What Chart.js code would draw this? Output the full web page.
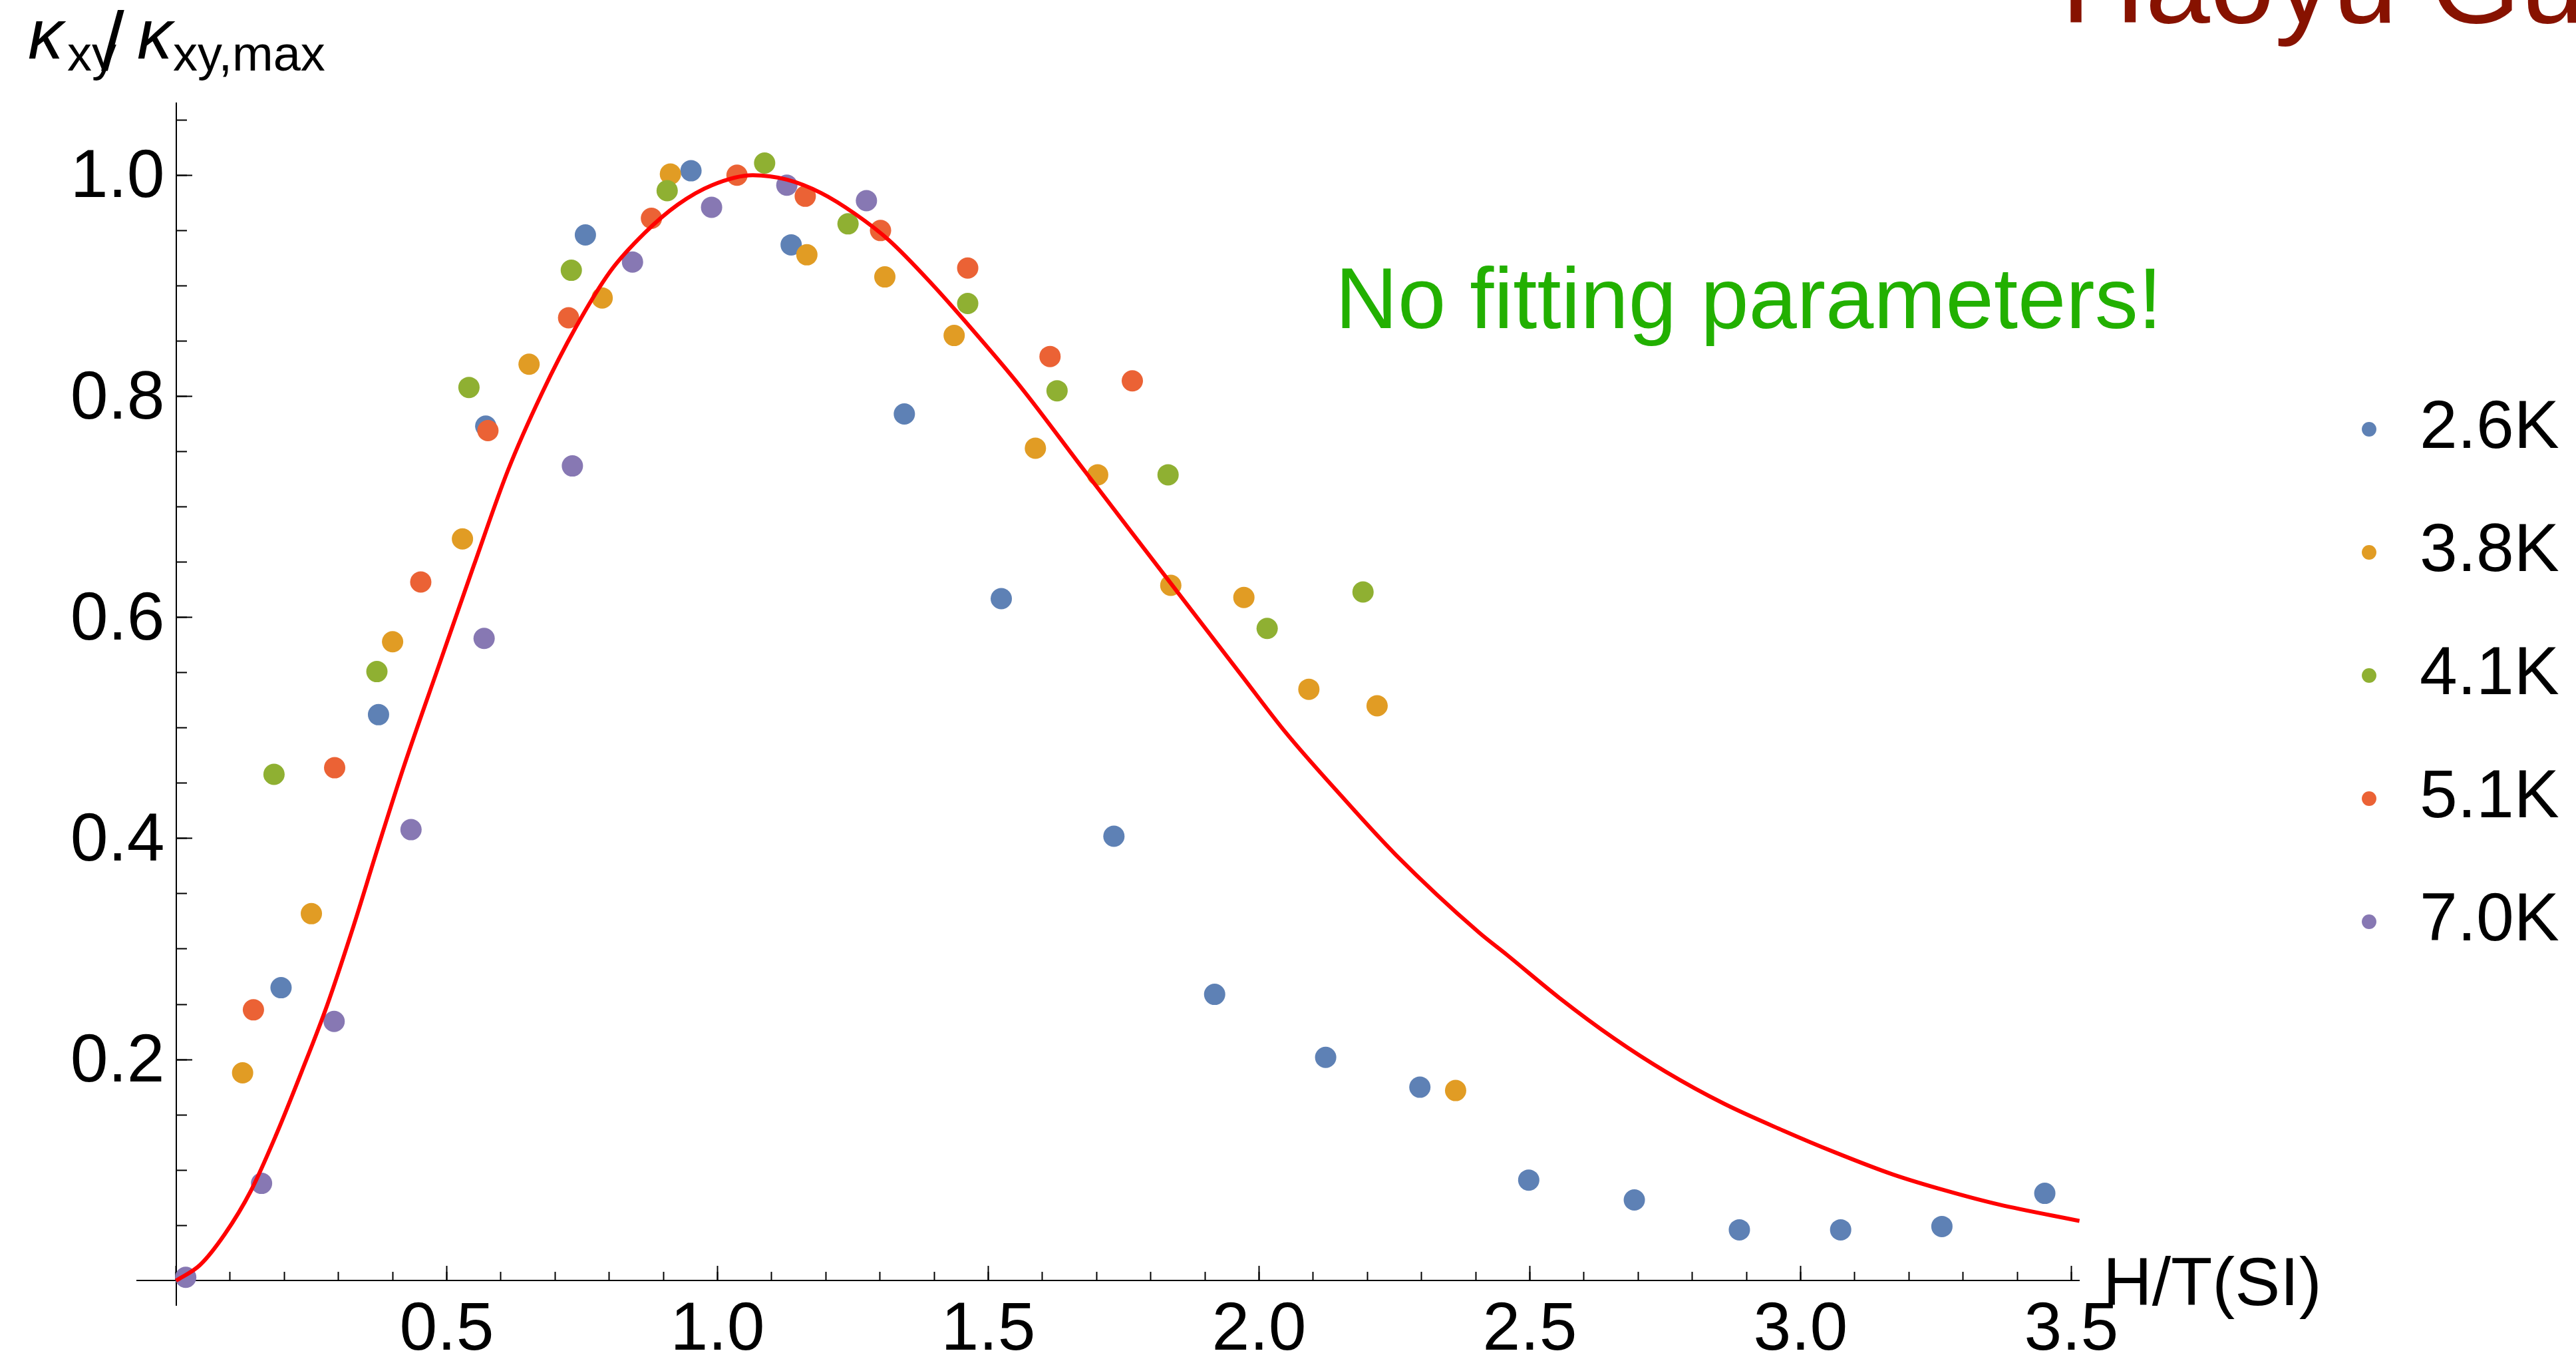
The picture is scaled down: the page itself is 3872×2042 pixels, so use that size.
<!DOCTYPE html>
<html><head><meta charset="utf-8">
<script src="https://cdn.jsdelivr.net/npm/chart.js@4/dist/chart.umd.min.js"></script>
<style>html,body{margin:0;padding:0;background:#fff;overflow:hidden}canvas{display:block}</style>
</head><body>
<canvas id="c" width="3872" height="2042" style="width:3872px;height:2042px"></canvas>
<script>
// ---------- data ----------
const seriesLabels = ['2.6K', '3.8K', '4.1K', '5.1K', '7.0K'];
const seriesColors = ['#5E81B5', '#E19C24', '#8FB032', '#EB6235', '#8778B3'];

const hT_2p6K = [0.194, 0.374, 0.572, 0.756, 0.951, 1.136, 1.345, 1.524, 1.732, 1.918, 2.123, 2.297, 2.498, 2.693, 2.887, 3.074, 3.261, 3.451];
const k_2p6K  = [0.265, 0.512, 0.773, 0.946, 1.004, 0.937, 0.784, 0.617, 0.402, 0.259, 0.202, 0.175, 0.091, 0.073, 0.046, 0.046, 0.049, 0.079];

const hT_3p8K = [0.123, 0.250, 0.400, 0.529, 0.652, 0.787, 0.913, 1.165, 1.309, 1.437, 1.587, 1.702, 1.837, 1.972, 2.092, 2.218, 2.363];
const k_3p8K  = [0.188, 0.332, 0.578, 0.671, 0.829, 0.889, 1.001, 0.928, 0.908, 0.855, 0.753, 0.729, 0.629, 0.618, 0.535, 0.520, 0.172];

const hT_4p1K = [0.181, 0.371, 0.541, 0.730, 0.907, 1.087, 1.241, 1.462, 1.627, 1.832, 2.015, 2.192];
const k_4p1K  = [0.458, 0.551, 0.808, 0.914, 0.986, 1.011, 0.956, 0.884, 0.805, 0.729, 0.590, 0.623];

const hT_5p1K = [0.143, 0.293, 0.452, 0.576, 0.725, 0.878, 1.036, 1.162, 1.301, 1.462, 1.614, 1.766];
const k_5p1K  = [0.245, 0.464, 0.632, 0.769, 0.871, 0.961, 1.000, 0.981, 0.950, 0.916, 0.836, 0.814];

const hT_7p0K = [0.018, 0.158, 0.292, 0.434, 0.569, 0.732, 0.843, 0.989, 1.128, 1.275];
const k_7p0K  = [0.003, 0.088, 0.2345, 0.408, 0.581, 0.737, 0.9215, 0.971, 0.991, 0.977];

// theory curve (red), read point by point
const curveH = [0, 0.044, 0.09, 0.138, 0.185, 0.232, 0.279, 0.326, 0.373, 0.42, 0.488, 0.55, 0.613, 0.676, 0.739, 0.802, 0.865, 0.927, 0.99, 1.065, 1.128, 1.191, 1.254, 1.317, 1.397, 1.457, 1.559, 1.671, 1.763, 1.865, 1.967, 2.049, 2.151, 2.253, 2.406, 2.457, 2.554, 2.656, 2.751, 2.859, 2.967, 3.064, 3.171, 3.268, 3.365, 3.515];
const curveK = [0, 0.014, 0.042, 0.081, 0.132, 0.189, 0.249, 0.318, 0.392, 0.464, 0.560, 0.647, 0.733, 0.803, 0.863, 0.913, 0.9475, 0.9735, 0.991, 1.0, 0.996, 0.984, 0.965, 0.941, 0.901, 0.868, 0.809, 0.737, 0.678, 0.613, 0.548, 0.496, 0.439, 0.385, 0.315, 0.295, 0.256, 0.219, 0.189, 0.160, 0.136, 0.116, 0.096, 0.0815, 0.069, 0.054];

const xTickValues = [0.5, 1.0, 1.5, 2.0, 2.5, 3.0, 3.5];
const xTickLabels = ['0.5', '1.0', '1.5', '2.0', '2.5', '3.0', '3.5'];
const yTickValues = [0.2, 0.4, 0.6, 0.8, 1.0];
const yTickLabels = ['0.2', '0.4', '0.6', '0.8', '1.0'];

const xAxisTitle = 'H/T(SI)';
const noteText = 'No fitting parameters!';
const authorText = 'Haoyu Gu';

// ---------- chart ----------
const FONT = '"Liberation Sans", Arial, Helvetica, sans-serif';
Chart.defaults.font.family = FONT;

const X_MIN = -0.0724, X_MAX = 3.5154, Y_MIN = -0.0221, Y_MAX = 1.065;

const pts = (xs, ys) => xs.map((v, i) => ({x: v, y: ys[i]}));
const seriesX = [hT_2p6K, hT_3p8K, hT_4p1K, hT_5p1K, hT_7p0K];
const seriesY = [k_2p6K, k_3p8K, k_4p1K, k_5p1K, k_7p0K];

const datasets = seriesLabels.map((lab, i) => ({
  label: lab,
  data: pts(seriesX[i], seriesY[i]),
  backgroundColor: seriesColors[i],
  borderColor: seriesColors[i],
  borderWidth: 0,
  pointRadius: 16,
  pointHoverRadius: 16,
  pointStyle: 'circle',
  order: 5 - i
}));
datasets.push({
  label: 'theory',
  data: pts(curveH, curveK),
  showLine: true,
  borderColor: '#FF0000',
  backgroundColor: '#FF0000',
  borderWidth: 6,
  pointRadius: 0,
  pointHoverRadius: 0,
  cubicInterpolationMode: 'monotone',
  fill: false,
  order: 0
});

const common = {type: 'linear'};
function tickScale(axis, pos, step, len, border) {
  return Object.assign({}, common, {
    axis: axis,
    min: axis === 'x' ? X_MIN : Y_MIN,
    max: axis === 'x' ? X_MAX : Y_MAX,
    position: pos,
    border: {display: border, color: '#000', width: 2},
    grid: {display: true, drawOnChartArea: false, drawTicks: true, tickLength: len, tickColor: '#000', tickWidth: 2},
    ticks: {display: false, stepSize: step, includeBounds: false}
  });
}
function labelScale(axis, pos, values, labels, pad, offs) {
  return Object.assign({}, common, {
    axis: axis,
    min: axis === 'x' ? X_MIN : Y_MIN,
    max: axis === 'x' ? X_MAX : Y_MAX,
    position: pos,
    border: {display: false},
    grid: {display: false, drawTicks: false, drawOnChartArea: false},
    afterBuildTicks: (s) => { s.ticks = values.map(v => ({value: v})); },
    ticks: {
      display: true, autoSkip: false, minRotation: 0, maxRotation: 0,
      padding: pad, labelOffset: offs, color: '#000',
      font: {family: FONT, size: 102},
      callback: (v, i) => labels[i]
    }
  });
}

const legendMover = {
  id: 'legendMover',
  afterLayout(chart) {
    const lg = chart.legend;
    if (!lg) return;
    const w = lg.width;
    lg.left = 3453; lg.right = 3453 + w;
    lg.top = 511;
  }
};

const textPlugin = {
  id: 'texts',
  afterDraw(chart) {
    const ctx = chart.ctx;
    ctx.save();
    ctx.textAlign = 'left';
    ctx.textBaseline = 'alphabetic';
    // author name at top right (cut off by the top edge)
    ctx.fillStyle = '#871200';
    ctx.font = '175px ' + FONT;
    ctx.fillText(authorText, 3098, 34);
    // annotation
    ctx.fillStyle = '#22B000';
    ctx.font = '130px ' + FONT;
    ctx.fillText(noteText, 2007, 493);
    // x axis title
    ctx.fillStyle = '#000';
    ctx.font = '102px ' + FONT;
    ctx.fillText(xAxisTitle, 3161, 1961);
    // y axis title  κ_xy / κ_xy,max
    ctx.font = 'italic 106px ' + FONT;
    ctx.fillText('κ', 42, 88);
    ctx.font = '74px ' + FONT;
    ctx.fillText('xy', 101, 106);
    ctx.font = '125px ' + FONT;
    ctx.fillText('/', 152, 105);
    ctx.font = 'italic 106px ' + FONT;
    ctx.fillText('κ', 206, 88);
    ctx.font = '74px ' + FONT;
    ctx.fillText('xy,max', 260, 106);
    ctx.restore();
  }
};

new Chart(document.getElementById('c'), {
  type: 'scatter',
  data: {datasets: datasets},
  plugins: [legendMover, textPlugin],
  options: {
    responsive: false,
    devicePixelRatio: 1,
    animation: false,
    events: [],
    layout: {padding: {left: 205.6, right: 342.2, top: 155.3, bottom: 81}},
    scales: {
      x: tickScale('x', {y: 0}, 0.5, -23, true),
      xm: tickScale('x', {y: 0}, 0.1, -13, false),
      xl: labelScale('x', {y: 0}, xTickValues, xTickLabels, 14, 0),
      y: tickScale('y', {x: 0}, 0.2, -25, true),
      ym: tickScale('y', {x: 0}, 0.05, -16, false),
      yl: labelScale('y', {x: -0.0209}, yTickValues, yTickLabels, 0, 5)
    },
    plugins: {
      title: {display: false},
      tooltip: {enabled: false},
      legend: {
        display: true,
        position: 'right',
        align: 'start',
        labels: {
          usePointStyle: true,
          pointStyle: 'circle',
          boxWidth: 50,
          boxHeight: 15.5,
          padding: 83,
          color: '#000',
          font: {family: FONT, size: 102},
          filter: (item) => item.datasetIndex < 5,
          sort: (a, b) => a.datasetIndex - b.datasetIndex
        }
      }
    }
  }
});
</script>
</body></html>
